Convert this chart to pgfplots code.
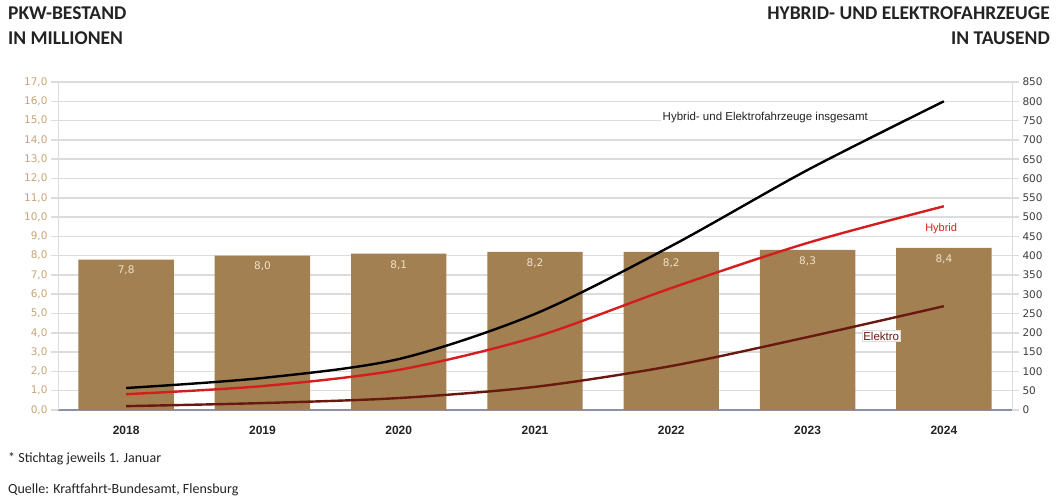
\documentclass[border=0pt]{standalone}
\usepackage{pgfplots}
\pgfplotsset{compat=1.18}
\usepackage{fontspec}
\setmainfont{Liberation Sans}
\newfontfamily\titlefont{Carlito}
\newfontfamily\tickfont{DejaVu Sans}

\definecolor{barbrown}{RGB}{162,128,82}
\definecolor{barlabel}{RGB}{240,226,200}
\definecolor{lefttick}{RGB}{198,166,118}
\definecolor{righttick}{RGB}{60,60,60}
\definecolor{gridgray}{RGB}{220,220,222}
\definecolor{baseline}{RGB}{140,146,165}
\definecolor{hybridred}{RGB}{212,30,30}
\definecolor{elektrobrown}{RGB}{105,25,15}
\definecolor{titlegray}{RGB}{35,35,35}

\begin{document}
\begin{tikzpicture}
\path[use as bounding box] (0pt,0pt) rectangle (1056pt,499pt);

% titles
\node[anchor=north west, align=left, inner sep=0pt, text=titlegray,
      font=\titlefont\bfseries\fontsize{19.5}{25}\selectfont] at (8pt,492pt)
      {PKW-BESTAND\\IN MILLIONEN};
\node[anchor=north east, align=right, inner sep=0pt, text=titlegray,
      font=\titlefont\bfseries\fontsize{19.5}{25}\selectfont] at (1050pt,492pt)
      {HYBRID- UND ELEKTROFAHRZEUGE\\IN TAUSEND};

% footnotes
\node[anchor=base west, inner sep=0pt, text=titlegray,
      font=\titlefont\fontsize{14}{16}\selectfont] at (8pt,37pt)
      {* Stichtag jeweils 1. Januar};
\node[anchor=base west, inner sep=0pt, text=titlegray,
      font=\titlefont\fontsize{14}{16}\selectfont] at (8pt,6pt)
      {Quelle: Kraftfahrt-Bundesamt, Flensburg};

% Pkw-Bestand (Mio.)
\begin{axis}[
    at={(58pt,89pt)}, anchor=south west,
    scale only axis, width=954pt, height=328pt,
    xmin=-0.5, xmax=6.5, ymin=0, ymax=17,
    axis x line*=bottom, axis y line*=left,
    x axis line style={draw=baseline, line width=2.2pt},
    y axis line style={draw=gridgray, line width=1pt},
    xtick={0,...,6},
    xticklabels={2018,2019,2020,2021,2022,2023,2024},
    major x tick style={draw=none},
    xticklabel style={font=\bfseries\fontsize{12}{14}\selectfont, text=titlegray, yshift=-6pt},
    ytick={0,1,...,17},
    tick align=outside,
    major tick length=7pt,
    major y tick style={draw=gridgray, line width=1.5pt},
    ymajorgrids,
    grid style={draw=gridgray, line width=1.5pt},
    /pgf/number format/assume math mode=true,
    yticklabel style={font=\tickfont\fontsize{10.5}{12}\selectfont, text=lefttick,
        /pgf/number format/.cd, fixed, fixed zerofill, precision=1, use comma},
    ]
    \addplot[ybar, bar width=0.7, fill=barbrown, draw=none,
        nodes near coords={\pgfmathprintnumber[fixed,fixed zerofill,precision=1,use comma]{\pgfplotspointmeta}},
        nodes near coords align={below},
        every node near coord/.append style={text=barlabel, yshift=-3pt,
            font=\tickfont\fontsize{10.5}{12}\selectfont}]
        coordinates {(0,7.8) (1,8.0) (2,8.1) (3,8.2) (4,8.2) (5,8.3) (6,8.4)};
\end{axis}

% Hybrid- und Elektrofahrzeuge (Tsd.)
\begin{axis}[
    at={(58pt,89pt)}, anchor=south west,
    scale only axis, width=954pt, height=328pt,
    xmin=-0.5, xmax=6.5, ymin=0, ymax=850,
    axis x line=none, axis y line*=right,
    y axis line style={draw=gridgray, line width=1pt},
    ytick={0,50,...,850},
    tick align=outside,
    major tick length=7pt,
    major y tick style={draw=gridgray, line width=1.5pt},
    /pgf/number format/assume math mode=true,
    yticklabel style={font=\tickfont\fontsize{10.5}{12}\selectfont, text=righttick,
        /pgf/number format/.cd, fixed, precision=0, 1000 sep={}},
    ]
    \addplot[smooth, black, line width=2.4pt]
        coordinates {(0,57) (1,83) (2,132) (3,249) (4,425) (5,622) (6,800)};
    \addplot[smooth, hybridred, line width=2.4pt]
        coordinates {(0,41) (1,62) (2,104) (3,189) (4,316) (5,433) (6,528)};
    \addplot[smooth, elektrobrown, line width=2.4pt]
        coordinates {(0,10) (1,18) (2,31) (3,60) (4,114) (5,189) (6,269)};

    \node[fill=white, inner sep=1.5pt, font=\fontsize{11.5}{13}\selectfont, text=titlegray]
        at (axis cs:4.69,759) {Hybrid- und Elektrofahrzeuge insgesamt};
    \node[inner sep=1pt, font=\fontsize{11}{13}\selectfont, text=hybridred]
        at (axis cs:5.98,471) {Hybrid};
    \node[fill=white, draw=gridgray, inner sep=1.5pt, font=\fontsize{11.5}{13}\selectfont, text=elektrobrown]
        at (axis cs:5.54,192) {Elektro};
\end{axis}
\end{tikzpicture}
\end{document}
